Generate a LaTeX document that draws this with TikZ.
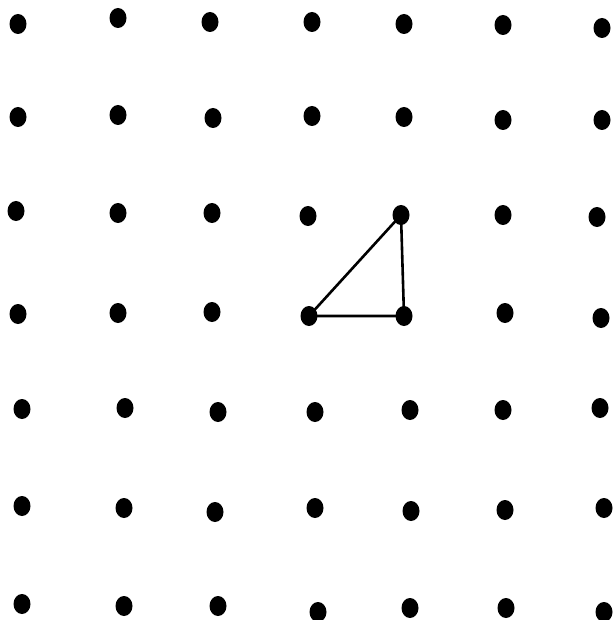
\documentclass[tikz,border=0pt]{standalone}
\usepackage{tikz}
\usetikzlibrary{shapes.geometric}
\tikzset{
  gridpoint/.style = {ellipse, fill=black, draw=none, inner sep=0pt,
    minimum width=17pt, minimum height=20pt},
  edge/.style = {draw=black, line width=2.6pt}
}

\begin{document}
\begin{tikzpicture}[x=1pt, y=-1pt]
        \useasboundingbox (0,0) rectangle (612,620);
        % dot grid, 7 rows by 7 columns
        \foreach \r/\c/\px/\py in {
            1/1/18/24, 1/2/118/18, 1/3/210/22, 1/4/312/22, 1/5/404/24, 1/6/503/25, 1/7/602/28,
            2/1/18/117, 2/2/118/115, 2/3/213/118, 2/4/312/116, 2/5/404/117, 2/6/503/120, 2/7/602/120,
            3/1/16/211, 3/2/118/213, 3/3/212/213, 3/4/308/216, 3/5/401/215, 3/6/503/215, 3/7/597/217,
            4/1/18/314, 4/2/118/313, 4/3/212/312, 4/4/309/316, 4/5/404/316, 4/6/505/313, 4/7/601/318,
            5/1/22/409, 5/2/125/408, 5/3/218/412, 5/4/315/412, 5/5/410/410, 5/6/503/410, 5/7/600/408,
            6/1/22/506, 6/2/124/508, 6/3/215/512, 6/4/315/508, 6/5/411/511, 6/6/505/510, 6/7/604/508,
            7/1/22/604, 7/2/124/606, 7/3/218/606, 7/4/318/612, 7/5/410/608, 7/6/506/608, 7/7/604/612}
        {
            \node [gridpoint] (p\r\c) at (\px,\py) {};
        }
        % the triangle
        \draw [edge] (p35.center) -- (p44.center) -- (p45.center) -- cycle;
\end{tikzpicture}
\end{document}
